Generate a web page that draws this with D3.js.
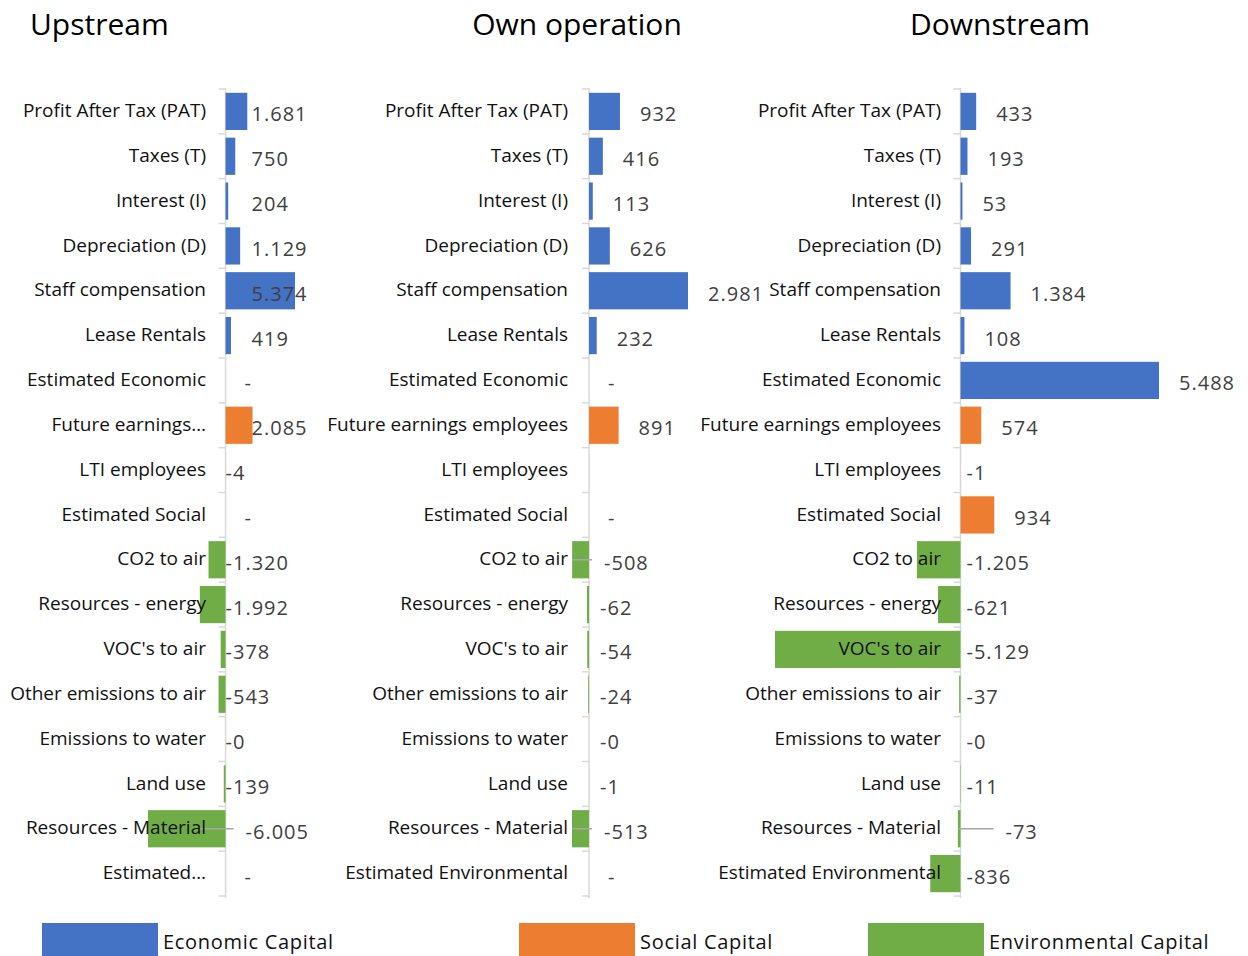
<!DOCTYPE html>
<html>
  <head>
    <meta charset="utf-8">
    <style>
      body { margin: 0; background: #ffffff; }
      #chart svg { display: block; }
      .cat { font-family: "Open Sans", sans-serif; font-size: 19px; fill: #111111; }
      .val { font-family: "Open Sans", sans-serif; font-size: 20px; fill: #404040; letter-spacing: 1px; }
      .title { font-family: "Open Sans", sans-serif; font-size: 30px; fill: #000000; }
      .legend { font-family: "Open Sans", sans-serif; font-size: 20px; fill: #111111; letter-spacing: 0.7px; }
    </style>
  </head>
  <body>
    <div id="chart"><svg></svg></div>
    <script src="https://d3js.org/d3.v7.min.js"></script>
    <script>
      // rows, top to bottom
      var categories = [
        "Profit After Tax (PAT)", "Taxes (T)", "Interest (I)", "Depreciation (D)",
        "Staff compensation", "Lease Rentals", "Estimated Economic",
        "Future earnings employees", "LTI employees", "Estimated Social",
        "CO2 to air", "Resources - energy", "VOC's to air", "Other emissions to air",
        "Emissions to water", "Land use", "Resources - Material", "Estimated Environmental"
      ];
      var capitals = [
        "Economic Capital", "Economic Capital", "Economic Capital", "Economic Capital",
        "Economic Capital", "Economic Capital", "Economic Capital",
        "Social Capital", "Social Capital", "Social Capital",
        "Environmental Capital", "Environmental Capital", "Environmental Capital", "Environmental Capital",
        "Environmental Capital", "Environmental Capital", "Environmental Capital", "Environmental Capital"
      ];
      var legendLabels = ["Economic Capital", "Social Capital", "Environmental Capital"];
      var panelTitles = ["Upstream", "Own operation", "Downstream"];

      var upstreamValues = [1681, 750, 204, 1129, 5374, 419, 0, 2085, -4, 0, -1320, -1992, -378, -543, -0.2, -139, -6005, 0];
      var ownOperationValues = [932, 416, 113, 626, 2981, 232, 0, 891, -1, 0, -508, -62, -54, -24, -0.2, -1, -513, 0];
      var downstreamValues = [433, 193, 53, 291, 1384, 108, 5488, 574, -1, 934, -1205, -621, -5129, -37, -0.2, -11, -73, -836];

      // labels that sit on a leader line / are not shown
      var upstreamLeaders = ["Resources - Material"];
      var ownOperationLeaders = ["CO2 to air", "Resources - Material"];
      var downstreamLeaders = ["Resources - Material"];
      var ownOperationHidden = ["LTI employees"];

      var colors = d3.scaleOrdinal()
        .domain(legendLabels)
        .range(["#4472C4", "#ED7D31", "#70AD47"]);

      var width = 1248, height = 956;
      var svg = d3.select("#chart svg").attr("width", width).attr("height", height);

      function fmt(v) {
        if (v === 0) return "-";
        var s = d3.format(",")(Math.round(Math.abs(v))).replace(/,/g, ".");
        return (v < 0 ? "-" : "") + s;
      }

      var y = d3.scaleBand()
        .domain(categories)
        .range([89, 896])
        .paddingInner(0.17)
        .paddingOuter(0.085);

      var panels = [
        { title: panelTitles[0], values: upstreamValues, leaders: upstreamLeaders, hidden: [],
          range: [148, 295], labelRight: 206, labelMax: 199, titleX: 30, titleAnchor: "start",
          posFixed: true, posGap: 26, negGap: 0, leaderGap: 20 },
        { title: panelTitles[1], values: ownOperationValues, leaders: ownOperationLeaders, hidden: ownOperationHidden,
          range: [572, 688], labelRight: 568, labelMax: 400, titleX: 577, titleAnchor: "middle",
          posFixed: false, posGap: 20, negGap: 11, leaderGap: 15 },
        { title: panelTitles[2], values: downstreamValues, leaders: downstreamLeaders, hidden: [],
          range: [775, 1159], labelRight: 941, labelMax: 400, titleX: 1000, titleAnchor: "middle",
          posFixed: false, posGap: 20, negGap: 6, leaderGap: 45 }
      ];

      panels.forEach(function(p) {
        var rows = categories.map(function(c, i) {
          return { name: c, value: p.values[i], capital: capitals[i] };
        });
        var x = d3.scaleLinear().domain(d3.extent(p.values)).range(p.range);
        var x0 = x(0);
        var g = svg.append("g");

        g.append("text").attr("class", "title")
          .attr("x", p.titleX).attr("y", 35)
          .attr("text-anchor", p.titleAnchor)
          .text(p.title);

        // category axis at zero
        g.append("line")
          .attr("x1", x0).attr("x2", x0)
          .attr("y1", y.range()[0] - 1).attr("y2", y.range()[1] + 2)
          .attr("stroke", "#d9d9d9").attr("stroke-width", 1.5);
        var bounds = d3.range(categories.length + 1).map(function(i) {
          return y.range()[0] + i * y.step();
        });
        g.selectAll(".tick").data(bounds).enter().append("line")
          .attr("x1", x0 - 7).attr("x2", x0)
          .attr("y1", function(d) { return d; })
          .attr("y2", function(d) { return d; })
          .attr("stroke", "#d9d9d9").attr("stroke-width", 1.5);

        g.selectAll(".bar").data(rows).enter().append("rect")
          .attr("x", function(d) { return Math.min(x(d.value), x0); })
          .attr("width", function(d) { return Math.abs(x(d.value) - x0); })
          .attr("y", function(d) { return y(d.name); })
          .attr("height", y.bandwidth())
          .attr("fill", function(d) { return colors(d.capital); });

        function labelX(d) {
          if (p.leaders.indexOf(d.name) >= 0) return x0 + p.leaderGap;
          if (d.value === 0) return x0 + 19;
          if (d.value > 0) return p.posFixed ? x0 + p.posGap : x(d.value) + p.posGap;
          return x0 + p.negGap;
        }

        g.selectAll(".leader").data(rows.filter(function(d) { return p.leaders.indexOf(d.name) >= 0; }))
          .enter().append("line")
          .attr("x1", function(d) { return Math.max(x(d.value), x0 - 26); })
          .attr("x2", function(d) { return labelX(d) - 12; })
          .attr("y1", function(d) { return y(d.name) + y.bandwidth() / 2; })
          .attr("y2", function(d) { return y(d.name) + y.bandwidth() / 2; })
          .attr("stroke", "#a6a6a6").attr("stroke-width", 1.5);

        g.selectAll(".val").data(rows.filter(function(d) { return p.hidden.indexOf(d.name) < 0; }))
          .enter().append("text").attr("class", "val")
          .attr("x", labelX)
          .attr("y", function(d) { return y(d.name) + y.bandwidth() / 2 + 3; })
          .attr("dy", "0.35em")
          .text(function(d) { return fmt(d.value); });

        g.selectAll(".cat").data(rows).enter().append("text").attr("class", "cat")
          .attr("x", p.labelRight)
          .attr("y", function(d) { return y(d.name) + y.bandwidth() / 2 - 1; })
          .attr("dy", "0.35em")
          .attr("text-anchor", "end")
          .text(function(d) { return d.name; })
          .each(function(d) {
            var t = d3.select(this);
            var words = d.name.split(" ");
            while (this.getComputedTextLength() > p.labelMax && words.length > 1) {
              words.pop();
              t.text(words.join(" ") + "…");
            }
          });
      });

      // legend
      var legendX = [42, 519, 868];
      var legend = svg.selectAll(".leg").data(legendLabels).enter().append("g")
        .attr("transform", function(d, i) { return "translate(" + legendX[i] + ",923)"; });
      legend.append("rect").attr("width", 116).attr("height", 34)
        .attr("fill", function(d) { return colors(d); });
      legend.append("text").attr("class", "legend")
        .attr("x", 121).attr("y", 26)
        .text(function(d) { return d; });
    </script>
  </body>
</html>
